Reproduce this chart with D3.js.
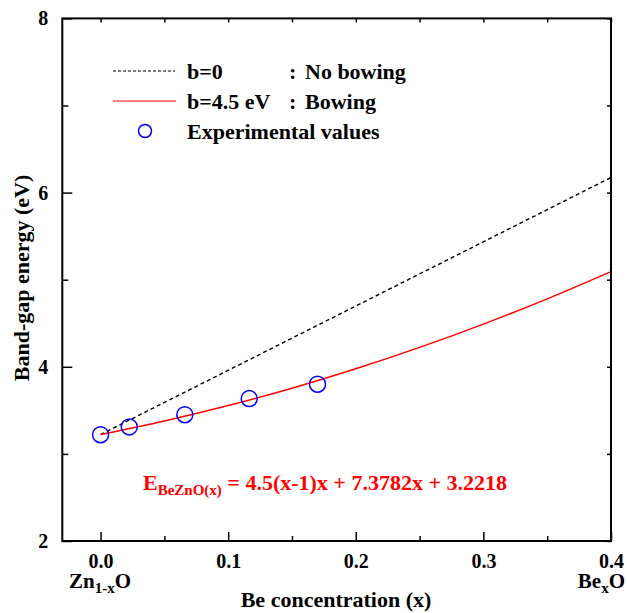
<!DOCTYPE html>
<html><head><meta charset="utf-8">
<script src="https://cdn.jsdelivr.net/npm/d3@7"></script>
<style>body{margin:0;background:#fff}svg{display:block}text{font-family:"Liberation Serif","Times New Roman",serif;font-weight:bold}</style>
</head><body><svg id="c" width="627" height="613"></svg>
<script>
// Data
const xDomain = [-0.03, 0.4];
const yDomain = [2, 8];
const xMajorTicks = [0.0, 0.1, 0.2, 0.3, 0.4];
const xMinorTicks = [0.05, 0.15, 0.25, 0.35];
const yMajorTicks = [2, 4, 6, 8];
const yMinorTicks = [3, 5, 7];
const curveX = [0, 0.05, 0.1, 0.15, 0.2, 0.25, 0.3, 0.35, 0.4];
const noBowingY = [3.2218, 3.5907, 3.9596, 4.3285, 4.6974, 5.0664, 5.4353, 5.8042, 6.1731];
const bowingY = [3.2218, 3.3770, 3.5546, 3.7548, 3.9774, 4.2226, 4.4903, 4.7804, 5.0931];
const expX = [0.0, 0.0225, 0.066, 0.1165, 0.170];
const expY = [3.22, 3.31, 3.45, 3.635, 3.80];

const svg = d3.select("#c");
const L = 62.3, R = 611, T = 18.4, B = 541;
const x = d3.scaleLinear().domain(xDomain).range([L, R]);
const y = d3.scaleLinear().domain(yDomain).range([B, T]);

// curves
const line = d3.line().x(d => x(d[0])).y(d => y(d[1]));
svg.append("path").datum(curveX.map((v,i)=>[v, noBowingY[i]]))
  .attr("d", line).attr("fill","none").attr("stroke","#000").attr("stroke-width",1.4).attr("stroke-dasharray","4,3");
svg.append("path").datum(curveX.map((v,i)=>[v, bowingY[i]]))
  .attr("d", line.curve(d3.curveMonotoneX)).attr("fill","none").attr("stroke","#ff0000").attr("stroke-width",1.5);
svg.selectAll("circle.exp").data(expX.map((v,i)=>[v, expY[i]])).enter().append("circle")
  .attr("cx", d=>x(d[0])).attr("cy", d=>y(d[1])).attr("r",8)
  .attr("fill","none").attr("stroke","#0000ff").attr("stroke-width",1.5);

// axes
const fmt = d3.format(".1f");
const gB = svg.append("g").attr("transform",`translate(0,${B})`)
  .call(d3.axisBottom(x).tickValues(xMajorTicks).tickSize(-9).tickPadding(13).tickFormat(fmt));
const gBm = svg.append("g").attr("transform",`translate(0,${B})`)
  .call(d3.axisBottom(x).tickValues(xMinorTicks).tickSize(-5).tickFormat(""));
const gT = svg.append("g").attr("transform",`translate(0,${T})`)
  .call(d3.axisTop(x).tickValues(xMajorTicks.concat(xMinorTicks)).tickSize(-4).tickFormat(""));
const gL = svg.append("g").attr("transform",`translate(${L},0)`)
  .call(d3.axisLeft(y).tickValues(yMajorTicks).tickSize(-10).tickPadding(14).tickFormat(d3.format("d")));
const gLm = svg.append("g").attr("transform",`translate(${L},0)`)
  .call(d3.axisLeft(y).tickValues(yMinorTicks).tickSize(-6).tickFormat(""));
const gR = svg.append("g").attr("transform",`translate(${R},0)`)
  .call(d3.axisRight(y).tickValues(yMajorTicks.concat(yMinorTicks)).tickSize(-4).tickFormat(""));
[gB,gBm,gT,gL,gLm,gR].forEach(g=>{
  g.select(".domain").remove();
  g.selectAll(".tick line").attr("stroke","#000").attr("stroke-width",1.5);
  g.selectAll(".tick text").attr("font-size",20).attr("font-family","Liberation Serif").attr("font-weight","bold").attr("fill","#000");
});
svg.append("rect").attr("x",L).attr("y",T).attr("width",R-L).attr("height",B-T)
  .attr("fill","none").attr("stroke","#000").attr("stroke-width",2);

// axis labels
svg.append("text").attr("x",336).attr("y",607).attr("text-anchor","middle").attr("font-size",22).text("Be concentration (x)");
svg.append("text").attr("transform",`translate(29,278) rotate(-90)`).attr("text-anchor","middle").attr("font-size",22).text("Band-gap energy (eV)");

// end labels
const zn = svg.append("text").attr("x",100).attr("y",588).attr("text-anchor","middle").attr("font-size",21);
zn.append("tspan").text("Zn");
zn.append("tspan").attr("font-size",15).attr("dy",5).text("1-x");
zn.append("tspan").attr("dy",-5).text("O");
const be = svg.append("text").attr("x",625).attr("y",588).attr("text-anchor","end").attr("font-size",21);
be.append("tspan").text("Be");
be.append("tspan").attr("font-size",15).attr("dy",5).text("x");
be.append("tspan").attr("dy",-5).text("O");

// legend
const legRows = [
  {y:71, type:"dash", a:"b=0", b:"No bowing"},
  {y:101, type:"solid", a:"b=4.5 eV", b:"Bowing"},
  {y:131, type:"circle", a:"Experimental values", b:""}
];
legRows.forEach(r=>{
  if(r.type==="dash") svg.append("line").attr("x1",113).attr("x2",175).attr("y1",r.y).attr("y2",r.y).attr("stroke","#000").attr("stroke-width",1.2).attr("stroke-dasharray","3,2");
  if(r.type==="solid") svg.append("line").attr("x1",113).attr("x2",176).attr("y1",r.y).attr("y2",r.y).attr("stroke","#ff0000").attr("stroke-width",1.2);
  if(r.type==="circle") svg.append("circle").attr("cx",145).attr("cy",r.y).attr("r",6.5).attr("fill","none").attr("stroke","#0000ff").attr("stroke-width",1.5);
  svg.append("text").attr("x",187).attr("y",r.y+8).attr("font-size",22).text(r.a);
  if(r.b){
    svg.append("text").attr("x",289).attr("y",r.y+8).attr("font-size",22).text(":");
    svg.append("text").attr("x",305).attr("y",r.y+8).attr("font-size",22).text(r.b);
  }
});

// equation
const eq = svg.append("text").attr("x",143).attr("y",490).attr("font-size",22).attr("fill","#ff0000");
eq.append("tspan").text("E");
eq.append("tspan").attr("font-size",15).attr("dy",5).text("BeZnO(x)");
eq.append("tspan").attr("dy",-5).text(" = 4.5(x-1)x + 7.3782x + 3.2218");
</script></body></html>
